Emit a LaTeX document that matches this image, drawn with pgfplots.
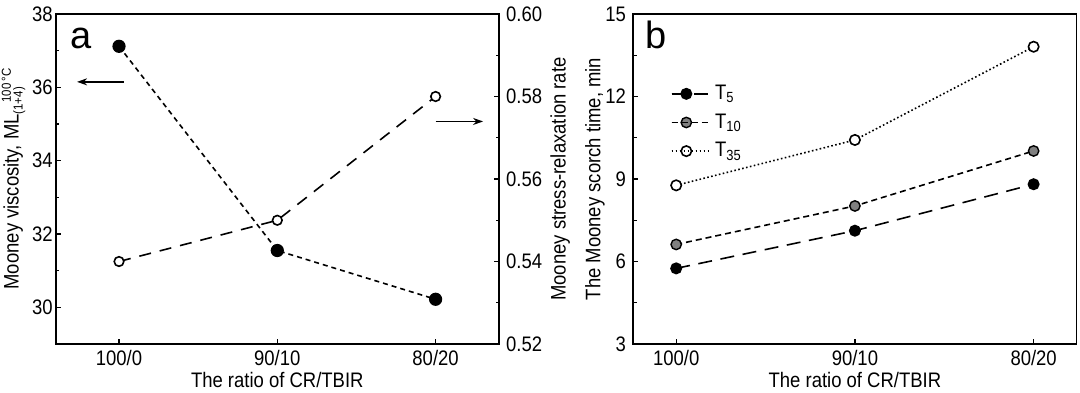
\documentclass[border=0pt]{standalone}
\usepackage{fontspec}
\setmainfont[FakeStretch=0.88]{Liberation Sans}
\newfontfamily\plainsans{Liberation Sans}
\usepackage{pgfplots}
\pgfplotsset{compat=1.18}
\usetikzlibrary{arrows.meta}

\pgfplotsset{
  myaxis/.style={
    scale only axis, width=221.6pt, height=165pt,
    font=\fontsize{10.5}{12}\selectfont,
    /pgf/number format/assume math mode=true,
    tick align=inside,
    major tick length=2.5pt, minor tick length=1.6pt,
    every tick/.style={black, line width=0.7pt},
    axis line style={line width=0.85pt},
    xtick={0,1,2}, xticklabels={100/0,90/10,80/20},
    xticklabel style={anchor=base, yshift=-10.5pt},
    xlabel style={at={(axis description cs:0.5,0)}, anchor=base, yshift=-21.9pt},
    minor y tick num=1,
    clip=false,
  },
}

\begin{document}
\begin{tikzpicture}
\useasboundingbox (0,0) rectangle (540pt,196pt);

% ---------- panel a, left axis ----------
\begin{axis}[myaxis,
  at={(27.85pt,24pt)}, anchor=south west,
  xmin=-0.4, xmax=2.4, ymin=29, ymax=38,
  ytick={30,32,34,36,38},
  ytick pos=left, xtick pos=bottom,
  yticklabel style={anchor=east, inner sep=0pt, xshift=-1.3pt},
  xlabel={The ratio of CR/TBIR},
  ylabel={Mooney viscosity, ML\makebox[0pt][l]{\raisebox{-2pt}{\fontsize{6.5}{7}\selectfont (1+4)}}\raisebox{3.85pt}{\hspace{0.55em}\fontsize{6.5}{7}\selectfont 100\,°C}},
  ylabel style={at={(axis description cs:0,0.5)}, anchor=base, yshift=18.5pt},
]
\addplot[black, line width=0.8pt, dash pattern=on 2.5pt off 2pt,
  mark=*, mark size=2.9pt, mark options={solid, fill=black}]
  coordinates {(0,37.12) (1,31.55) (2,30.22)};
\draw[line width=0.7pt, -{Stealth[length=5pt,width=3.5pt]}]
  (axis cs:0.03,36.15) -- (axis cs:-0.265,36.15);
\draw[line width=0.7pt, -{Stealth[length=5pt,width=3.5pt]}]
  (axis cs:2.0,35.07) -- (axis cs:2.30,35.07);
\node[font=\plainsans\fontsize{19}{20}\selectfont, anchor=base]
  at (rel axis cs:0.057,0.896) {a};
\end{axis}

% ---------- panel a, right axis ----------
\begin{axis}[myaxis,
  at={(27.85pt,24pt)}, anchor=south west,
  xmin=-0.4, xmax=2.4, ymin=0.52, ymax=0.60,
  axis y line*=right, axis x line=none,
  ytick={0.52,0.54,0.56,0.58,0.60},
  yticklabel style={anchor=west, inner sep=0pt, xshift=3.4pt,
    /pgf/number format/.cd, fixed, fixed zerofill, precision=2},
  ylabel={Mooney stress-relaxation rate},
  ylabel style={at={(axis description cs:1,0.5)}, anchor=base, yshift=-33.4pt},
]
\addplot[black, line width=0.8pt, dash pattern=on 6pt off 4.5pt,
  mark=*, mark size=2.4pt, mark options={solid, fill=white, line width=0.8pt}]
  coordinates {(0,0.540) (1,0.550) (2,0.580)};
\end{axis}

% ---------- panel b ----------
\begin{axis}[myaxis,
  at={(316.65pt,24pt)}, anchor=south west,
  xmin=-0.24, xmax=2.24, ymin=3, ymax=15,
  ytick={3,6,9,12,15},
  ytick pos=left, xtick pos=bottom,
  yticklabel style={anchor=east, inner sep=0pt, xshift=-3.5pt},
  xlabel={The ratio of CR/TBIR},
  ylabel={The Mooney scorch time, min},
  ylabel style={at={(axis description cs:0,0.5)}, anchor=base, yshift=16.5pt},
  legend style={draw=none, fill=none, at={(rel axis cs:0.07,0.81)}, anchor=north west,
    legend cell align=left, row sep=1.6pt, font=\fontsize{10.5}{12}\selectfont},
  legend image code/.code={\draw[mark repeat=2, mark phase=2, #1]
    plot coordinates {(0cm,0cm) (0.26cm,0cm) (0.52cm,0cm)};
    \path (0cm,0cm) -- (0.68cm,0cm);},
]
\addplot[black, line width=0.8pt, dash pattern=on 7pt off 4.3pt,
  mark=*, mark size=2.6pt, mark options={solid, fill=black}]
  coordinates {(0,5.75) (1,7.12) (2,8.81)};
\addlegendentry{T\textsubscript{5}}
\addplot[black, line width=0.8pt, dash pattern=on 3pt off 2pt,
  mark=*, mark size=2.6pt, mark options={solid, fill=gray, line width=0.7pt}]
  coordinates {(0,6.62) (1,8.02) (2,10.02)};
\addlegendentry{T\textsubscript{10}}
\addplot[black, line width=0.8pt, dash pattern=on 0.8pt off 1.2pt,
  mark=*, mark size=2.6pt, mark options={solid, fill=white, line width=0.8pt}]
  coordinates {(0,8.77) (1,10.42) (2,13.81)};
\addlegendentry{T\textsubscript{35}}
\node[font=\plainsans\fontsize{19}{20}\selectfont, anchor=base]
  at (rel axis cs:0.052,0.896) {b};
\end{axis}
\end{tikzpicture}
\end{document}
